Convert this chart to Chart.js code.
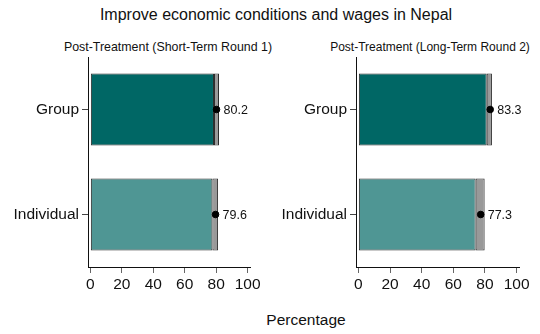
<!DOCTYPE html>
<html>
<head>
<meta charset="utf-8">
<script src="https://cdn.jsdelivr.net/npm/chart.js@4.4.1/dist/chart.umd.min.js"></script>
<style>
  body { margin: 0; background: #fff; }
  #wrap { position: relative; width: 540px; height: 334px; font-family: "Liberation Sans", Arial, sans-serif; color: #111; }
  .txt { position: absolute; white-space: nowrap; transform: translate(-50%, -50%); }
  .panel { position: absolute; top: 0; width: 270px; height: 300px; }
</style>
</head>
<body>
<div id="wrap">
  <div class="txt" style="left:276px; top:15px; font-size:16px;">Improve economic conditions and wages in Nepal</div>
  <div class="txt" style="left:168px; top:47px; font-size:12.4px;">Post-Treatment (Short-Term Round 1)</div>
  <div class="txt" style="left:430px; top:47px; font-size:12px;">Post-Treatment (Long-Term Round 2)</div>
  <div class="txt" style="left:306px; top:320px; font-size:15.5px;">Percentage</div>
  <div class="panel" style="left:0px;"><canvas id="short-chart"></canvas></div>
  <div class="panel" style="left:270px;"><canvas id="long-chart"></canvas></div>
</div>
<script>
// data
const categories = ["Group", "Individual"];
const xTicks = [0, 20, 40, 60, 80, 100];

// short-term round 1
const shortMeans = [80.2, 79.6];
const shortLow = [78.6, 77.6];
const shortHigh = [81.8, 81.2];

// long-term round 2
const longMeans = [83.3, 77.3];
const longLow = [81.1, 74.1];
const longHigh = [84.4, 79.8];

const barColors = ["#006765", "#4f9694"];
const ciColor = "#999999";

// writes the value next to each dot
const valueLabels = {
  id: "valueLabels",
  afterDatasetsDraw(chart) {
    const ctx = chart.ctx;
    const meta = chart.getDatasetMeta(2);
    const values = chart.data.datasets[2].data;
    ctx.save();
    ctx.font = "12.5px 'Liberation Sans', Arial, sans-serif";
    ctx.fillStyle = "#111";
    ctx.textAlign = "left";
    ctx.textBaseline = "middle";
    meta.data.forEach((pt, i) => {
      ctx.fillText(values[i].toFixed(1), pt.x + 7, pt.y + 1);
    });
    ctx.restore();
  }
};

function makePanel(id, means, low, high, axisWidth, padRight) {
  new Chart(id, {
    type: "bar",
    data: {
      labels: categories,
      datasets: [
        {
          data: low.map(v => [0, v]),
          backgroundColor: barColors,
          borderColor: "#2b2b2b",
          borderWidth: 1,
          borderSkipped: false,
          grouped: false,
          barPercentage: 0.686,
          categoryPercentage: 1,
          order: 2
        },
        {
          data: low.map((v, i) => [v, high[i]]),
          backgroundColor: ciColor,
          borderColor: "#2b2b2b",
          borderWidth: 1,
          borderSkipped: false,
          grouped: false,
          barPercentage: 0.686,
          categoryPercentage: 1,
          order: 1
        },
        {
          type: "line",
          data: means,
          showLine: false,
          pointRadius: 3.3,
          pointBackgroundColor: "#000",
          pointBorderColor: "#000",
          order: 0
        }
      ]
    },
    options: {
      indexAxis: "y",
      responsive: true,
      maintainAspectRatio: false,
      animation: false,
      layout: { padding: { top: 57, right: padRight, left: 0, bottom: 0 } },
      plugins: { legend: { display: false }, tooltip: { enabled: false } },
      scales: {
        x: {
          min: -1.5,
          max: 101.5,
          afterBuildTicks: s => { s.ticks = xTicks.map(v => ({ value: v })); },
          afterFit: s => { s.height = 33; },
          border: { color: "#111", width: 1 },
          grid: { drawOnChartArea: false, tickLength: 6, color: "#666" },
          ticks: { color: "#111", padding: 2, font: { size: 15.5, family: "'Liberation Sans', Arial, sans-serif" } }
        },
        y: {
          afterFit: s => { s.width = axisWidth; },
          border: { color: "#111", width: 1 },
          grid: { drawOnChartArea: false, offset: false, tickLength: 6, color: "#444" },
          ticks: { color: "#111", padding: 3, font: { size: 15.5, family: "'Liberation Sans', Arial, sans-serif" } }
        }
      }
    },
    plugins: [valueLabels]
  });
}

makePanel("short-chart", shortMeans, shortLow, shortHigh, 88, 20);
makePanel("long-chart", longMeans, longLow, longHigh, 86, 21);
</script>
</body>
</html>
